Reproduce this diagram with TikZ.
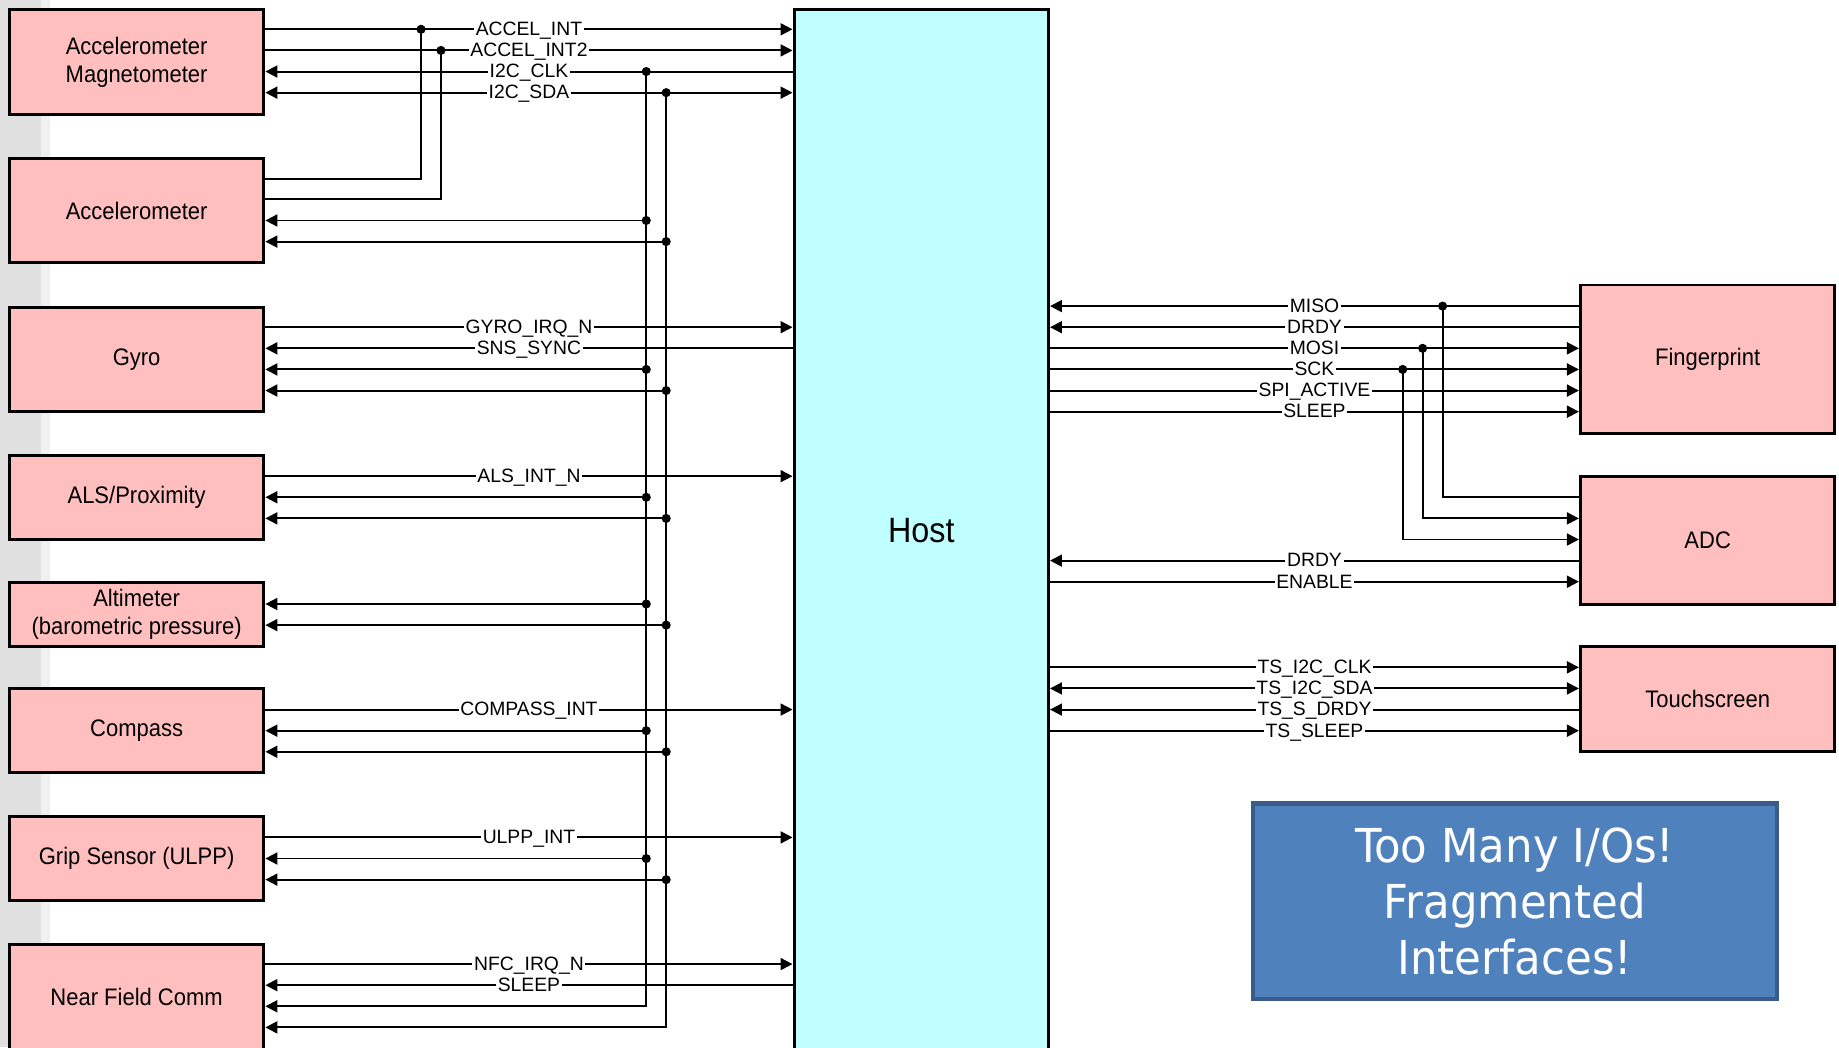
\documentclass[tikz,border=0pt]{standalone}
\usepackage{fontspec}
\setmainfont{Liberation Sans}
\newfontfamily\boxfont{Liberation Sans}[FakeStretch=0.92]
\newfontfamily\notefont{DejaVu Sans}[FakeStretch=0.93]
\usetikzlibrary{arrows.meta}
\newlength\px
\setlength\px{0.11728mm}
\definecolor{boxpink}{RGB}{255,191,191}
\definecolor{hostcyan}{RGB}{191,255,255}
\definecolor{noteblue}{RGB}{79,129,189}
\definecolor{noteedge}{RGB}{56,93,138}
\definecolor{slidegray}{RGB}{224,224,224}
\definecolor{slidelight}{RGB}{240,240,240}
\tikzset{
    lab/.style={
        font=\fontsize{5.5}{6}\selectfont, fill=white,
        inner xsep=0.5pt, inner ysep=0pt, text height=3.9pt, text depth=0.3pt
    }
}

\begin{document}
\begin{tikzpicture}[
  x=1\px,
  y=-1\px,
  >={Triangle[length=3.4pt,width=3.4pt]},
  box/.style={draw=black, line width=0.85pt, fill=boxpink, inner sep=0pt, align=center, minimum width=217\px, font=\boxfont\fontsize{6.8}{8.1}\selectfont},
  hostbox/.style={draw=black, line width=0.85pt, fill=hostcyan, inner sep=0pt, minimum width=217\px, font=\boxfont\fontsize{10}{12}\selectfont},
  notebox/.style={draw=noteedge, line width=1.2pt, fill=noteblue, inner sep=0pt, align=center, text=white, font=\notefont\fontsize{13.3}{16}\selectfont},
  sig/.style={draw=black, line width=0.55pt}
]
\useasboundingbox (0,0) rectangle (1568,893);
\clip (0,0) rectangle (1568,893);

% ---------- slide edge ----------
\fill[slidegray] (0,0) rectangle (35,893);
\fill[slidelight] (35,0) rectangle (43,893);

% ---------- blocks ----------
\node[box, minimum height=90\px] (acm) at (116.5,53) {Accelerometer\\Magnetometer};
\node[box, minimum height=89\px] (acc) at (116.5,179.5) {Accelerometer};
\node[box, minimum height=89\px] (gyro) at (116.5,306.5) {Gyro};
\node[box, minimum height=72\px] (als) at (116.5,424) {ALS/Proximity};
\node[box, minimum height=54\px] (alt) at (116.5,524) {Altimeter\\(barometric pressure)};
\node[box, minimum height=72\px] (cmp) at (116.5,623) {Compass};
\node[box, minimum height=72\px] (grip) at (116.5,732) {Grip Sensor (ULPP)};
\node[box, minimum height=90\px] (nfc) at (116.5,850) {Near Field Comm};
\node[hostbox, minimum height=888\px] (host) at (785.5,452) {Host};
\node[box, minimum height=127\px] (fp) at (1456,306.5) {Fingerprint};
\node[box, minimum height=109\px] (adc) at (1456,460.5) {ADC};
\node[box, minimum height=90\px] (ts) at (1456,596) {Touchscreen};
\node[notebox, minimum width=447\px, minimum height=167\px] (note) at (1291.5,768.5) {Too Many I/Os!\\Fragmented\\Interfaces!};

% ---------- sensor -> host ----------
\foreach \n/\y/\t in {acm/25/ACCEL\_INT, acm/43/ACCEL\_INT2, gyro/279/GYRO\_IRQ\_N, als/406/ALS\_INT\_N, cmp/605/COMPASS\_INT, grip/714/ULPP\_INT, nfc/822/NFC\_IRQ\_N}
  \draw[sig, ->] (\n.east |- 0,\y) -- node[lab] {\t} (host.west |- 0,\y);

% ---------- host -> sensor ----------
\draw[sig, <-] (acm.east |- 0,61) -- node[lab] {I2C\_CLK} (host.west |- 0,61);
\draw[sig, <->] (acm.east |- 0,79) -- node[lab] {I2C\_SDA} (host.west |- 0,79);
\draw[sig, <-] (gyro.east |- 0,297) -- node[lab] {SNS\_SYNC} (host.west |- 0,297);
\draw[sig, <-] (nfc.east |- 0,840) -- node[lab] {SLEEP} (host.west |- 0,840);

% ---------- shared interrupts ----------
\coordinate (int1) at (359,25);
\coordinate (int2) at (376,43);
\draw[sig] (acc.east |- 0,153) -| (int1);
\draw[sig] (acc.east |- 0,170) -| (int2);
\fill (int1) circle[radius=1.3pt] (int2) circle[radius=1.3pt];

% ---------- I2C bus ----------
\coordinate (clk) at (551,61);
\coordinate (sda) at (568,79);
\draw[sig, <-] (nfc.east |- 0,858) -| (clk);
\draw[sig, <-] (nfc.east |- 0,876) -| (sda);
\fill (clk) circle[radius=1.3pt] (sda) circle[radius=1.3pt];
\foreach \n/\ya/\yb in {acc/188/206, gyro/315/333, als/424/442, alt/515/533, cmp/623/641, grip/732/750} {
  \draw[sig, <-] (\n.east |- 0,\ya) -- (clk |- 0,\ya);
  \draw[sig, <-] (\n.east |- 0,\yb) -- (sda |- 0,\yb);
  \fill (clk |- 0,\ya) circle[radius=1.3pt] (sda |- 0,\yb) circle[radius=1.3pt];
}

% ---------- fingerprint / ADC ----------
\draw[sig, <-] (host.east |- 0,261) -- node[lab] {MISO} (fp.west |- 0,261);
\draw[sig, <-] (host.east |- 0,279) -- node[lab] {DRDY} (fp.west |- 0,279);
\foreach \y/\t in {297/MOSI, 315/SCK, 333/SPI\_ACTIVE, 351/SLEEP}
  \draw[sig, ->] (host.east |- 0,\y) -- node[lab] {\t} (fp.west |- 0,\y);
\coordinate (miso) at (1230,261);
\coordinate (mosi) at (1213,297);
\coordinate (sck) at (1196,315);
\draw[sig] (miso) |- (adc.west |- 0,424);
\draw[sig, ->] (mosi) |- (adc.west |- 0,442);
\draw[sig, ->] (sck) |- (adc.west |- 0,460);
\fill (miso) circle[radius=1.3pt] (mosi) circle[radius=1.3pt] (sck) circle[radius=1.3pt];
\draw[sig, <-] (host.east |- 0,478) -- node[lab] {DRDY} (adc.west |- 0,478);
\draw[sig, ->] (host.east |- 0,496) -- node[lab] {ENABLE} (adc.west |- 0,496);

% ---------- touchscreen ----------
\draw[sig, ->] (host.east |- 0,569) -- node[lab] {TS\_I2C\_CLK} (ts.west |- 0,569);
\draw[sig, <->] (host.east |- 0,587) -- node[lab] {TS\_I2C\_SDA} (ts.west |- 0,587);
\draw[sig, <-] (host.east |- 0,605) -- node[lab] {TS\_S\_DRDY} (ts.west |- 0,605);
\draw[sig, ->] (host.east |- 0,623) -- node[lab] {TS\_SLEEP} (ts.west |- 0,623);

\end{tikzpicture}
\end{document}
